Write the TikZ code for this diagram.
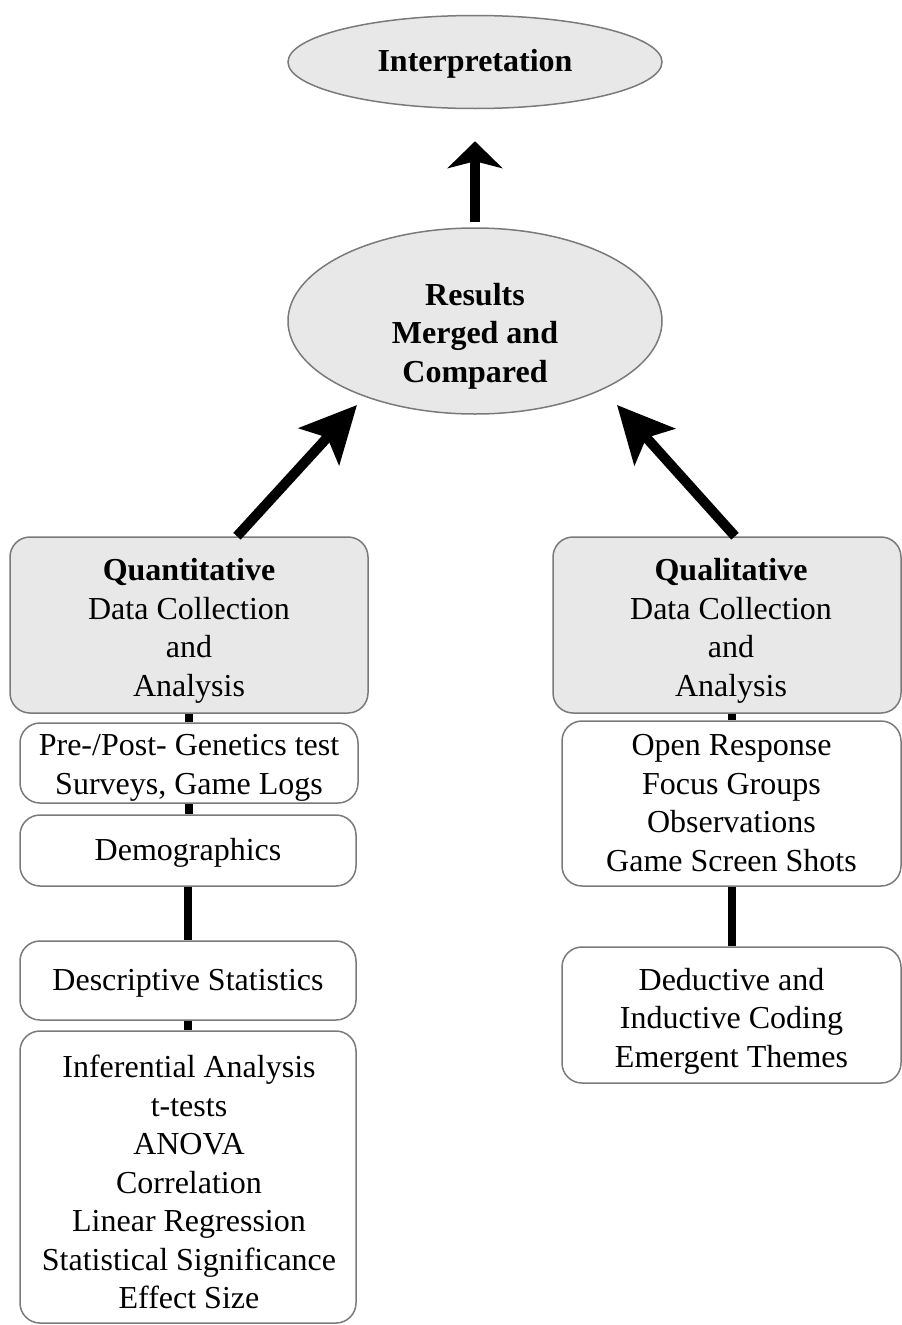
\documentclass[tikz,border=0pt]{standalone}
\usepackage{fontspec}
\setmainfont{Liberation Serif}
\usetikzlibrary{arrows.meta,shapes.geometric}
\definecolor{fillgray}{HTML}{E8E8E8}
\definecolor{edgegray}{HTML}{7A7A7A}

\begin{document}
\begin{tikzpicture}[x=1pt,y=-1pt,
  font=\fontsize{32}{38.5}\selectfont,
  oval/.style={ellipse, draw=edgegray, line width=1.5pt, fill=fillgray, inner sep=0pt},
  headbox/.style={rectangle, rounded corners=20pt, draw=edgegray, line width=1.5pt,
    fill=fillgray, inner sep=0pt},
  itembox/.style={rectangle, rounded corners=20pt, draw=edgegray, line width=1.5pt,
    fill=white, inner sep=0pt},
  txt/.style={align=center, inner sep=0pt},
  link/.style={line width=8pt, black},
  uparrow/.style={line width=10pt, black,
    -{Stealth[length=27pt,width=55pt,inset=7pt]}},
  diagarrow/.style={line width=10pt, black,
    -{Stealth[length=56pt,width=54pt,inset=12pt]}}
]
\useasboundingbox (0,0) rectangle (902,1325);

% top of the flow
\node[oval, minimum width=374pt, minimum height=93pt] (interp) at (475,62) {};
\node[txt] (interp-t) at (475,64) {\textbf{Interpretation}};
\node[oval, minimum width=374pt, minimum height=186pt] (res) at (475,321) {};
\node[txt] (res-t) at (475,336) {\textbf{Results}\\\textbf{Merged and}\\\textbf{Compared}};

% the two strands
\node[headbox, minimum width=358pt, minimum height=176pt] (quant) at (189,625) {};
\node[txt] (quant-t) at (189,631) {\textbf{Quantitative}\\Data Collection\\and\\Analysis};
\node[headbox, minimum width=348pt, minimum height=176pt] (qual) at (727,625) {};
\node[txt] (qual-t) at (731,631) {\textbf{Qualitative}\\Data Collection\\and\\Analysis};

% quantitative steps
\node[itembox, minimum width=338pt, minimum height=80pt] (pre) at (189,763) {};
\node[txt] (pre-t) at (189,768) {Pre-/Post- Genetics test\\Surveys, Game Logs};
\node[itembox, minimum width=336pt, minimum height=71pt] (demo) at (188,850.5) {};
\node[txt] (demo-t) at (188,852.5) {Demographics};
\node[itembox, minimum width=336pt, minimum height=79pt] (desc) at (188,980.5) {};
\node[txt] (desc-t) at (188,983.5) {Descriptive Statistics};
\node[itembox, minimum width=336pt, minimum height=292pt] (infer) at (188,1177) {};
\node[txt] (infer-t) at (189,1182) {Inferential Analysis\\t-tests\\ANOVA\\Correlation\\Linear Regression\\Statistical Significance\\Effect Size};

% qualitative steps
\node[itembox, minimum width=339pt, minimum height=165pt] (open) at (731.5,803.5) {};
\node[txt] (open-t) at (731.5,803) {Open Response\\Focus Groups\\Observations\\Game Screen Shots};
\node[itembox, minimum width=339pt, minimum height=136pt] (ded) at (731.5,1015) {};
\node[txt] (ded-t) at (731.5,1021) {Deductive and\\Inductive Coding\\Emergent Themes};

% vertical links
\draw[link] (quant.south -| pre.north) -- (pre.north);
\draw[link] (pre.south) -- (pre.south |- demo.north);
\draw[link] (demo.south) -- (desc.north);
\draw[link] (desc.south) -- (infer.north);
\draw[link] (open.north) -- (open.north |- qual.south);
\draw[link] (open.south) -- (ded.north);

% arrows into the merge
\coordinate (lhead) at (357,405);
\coordinate (rhead) at (617,405);
\draw[diagarrow] ([xshift=48pt]quant.north) -- (lhead);
\draw[diagarrow] ([xshift=8pt]qual.north) -- (rhead);
\draw[uparrow, shorten <=5pt, shorten >=32pt] (res.north) -- (interp.south);
\end{tikzpicture}
\end{document}
